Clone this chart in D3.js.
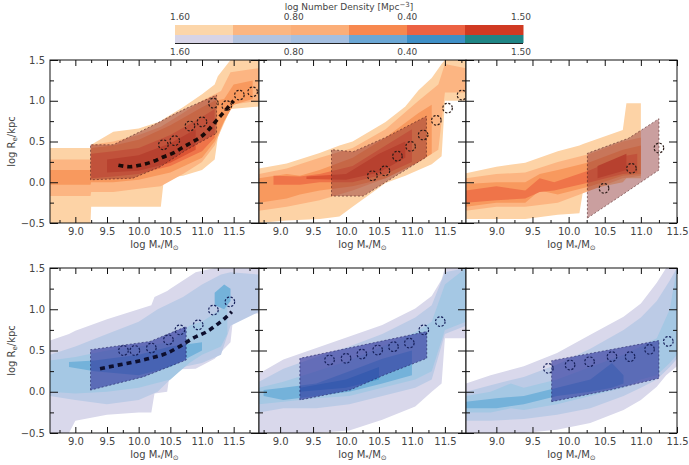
<!DOCTYPE html>
<html>
<head>
<meta charset="utf-8">
<script src="https://cdnjs.cloudflare.com/ajax/libs/d3/7.8.5/d3.min.js"></script>
<style>
  body { margin: 0; background: #fff; }
  text { font-family: "DejaVu Sans", sans-serif; fill: #444; }
</style>
</head>
<body>
<svg id="fig" width="689" height="465"></svg>
<script>
// tick values and colorbar
const xTicks = [9.0, 9.5, 10.0, 10.5, 11.0, 11.5];
const yTicks = [-0.5, 0.0, 0.5, 1.0, 1.5];
const cbarLabels = ["1.60", "0.80", "0.40", "1.50"];
const cbarOrange = ["#fcd6aa", "#fbb681", "#fbae78", "#f7884f", "#ec6243", "#d03a22"];
const cbarBlue = ["#d7d4e7", "#b4c4df", "#a5bfe0", "#6ba7d5", "#3e8fc7", "#1f8585"];
const orangeLevels = ["#fdd3a6", "#fcb582", "#f8995e", "#ef7449", "#dc5434"];
const blueLevels = ["#d9d8eb", "#bccbe6", "#a5c8e4", "#74b2da", "#4c9dcf"];

// density contours: each level = list of bands [logM, lo, hi]
const p1Levels = [
  [[[8.6,-0.5,0.42],[9.24,-0.5,0.42],[9.25,-0.3,0.46],[9.6,-0.3,0.62],[10.0,-0.3,0.66],[10.35,-0.3,0.75],[10.4,0.05,0.78],[10.7,0.08,0.92],[11.0,0.15,1.08],[11.2,0.28,1.2],[11.25,0.55,1.3],[11.45,0.9,1.5],[11.9,0.93,1.5]]],
  [[[8.6,-0.17,0.28],[9.24,-0.17,0.28],[9.25,-0.12,0.46],[9.6,-0.12,0.5],[10.0,-0.08,0.58],[10.35,-0.05,0.68],[10.7,0.1,0.85],[11.0,0.25,1.0],[11.2,0.45,1.08],[11.3,0.65,1.12],[11.45,0.95,1.35],[11.9,1.0,1.4]]],
  [[[8.6,-0.03,0.15],[9.24,-0.03,0.15],[9.25,0.0,0.42],[9.6,0.0,0.45],[10.0,0.03,0.52],[10.5,0.12,0.7],[11.0,0.3,0.92],[11.2,0.5,1.0],[11.35,0.75,1.02],[11.5,0.95,1.2],[11.8,1.02,1.25]]],
  [[[9.25,0.05,0.35],[9.6,0.07,0.38],[10.0,0.1,0.42],[10.5,0.2,0.58],[11.0,0.38,0.8],[11.2,0.55,0.9]]],
  [[[9.5,0.12,0.28],[10.0,0.14,0.33],[10.5,0.24,0.48],[10.9,0.4,0.65]]]
];
const p2Levels = [
  [[[8.68,-0.5,0.17],[9.1,-0.47,0.23],[9.6,-0.45,0.36],[9.9,-0.42,0.45],[10.1,-0.3,0.5],[10.6,-0.01,0.74],[10.9,0.08,0.93],[11.1,0.15,1.13],[11.3,0.22,1.28],[11.45,0.32,1.45],[11.5,1.0,1.5],[11.82,1.0,1.5]]],
  [[[8.68,-0.35,0.1],[9.1,-0.3,0.17],[9.6,-0.22,0.3],[10.1,-0.1,0.42],[10.6,0.05,0.65],[11.1,0.25,1.0],[11.4,0.4,1.2],[11.5,1.1,1.45],[11.82,1.1,1.4]]],
  [[[8.68,-0.25,0.05],[9.1,-0.2,0.1],[9.3,-0.15,0.08],[9.6,-0.1,0.15],[10.1,-0.05,0.3],[10.6,0.05,0.55],[11.1,0.25,0.85],[11.3,0.35,0.95]]],
  [[[8.9,-0.03,0.08],[9.3,-0.03,0.07],[9.6,0.0,0.1],[10.1,0.0,0.2],[10.6,0.1,0.45],[11.0,0.25,0.65]]],
  [[[9.4,0.04,0.07],[10.0,0.03,0.1],[10.5,0.12,0.35],[10.9,0.3,0.5]]]
];
const p3Levels = [
  [[[8.58,-0.45,0.11],[9.0,-0.45,0.19],[9.4,-0.45,0.24],[9.85,-0.4,0.38],[10.15,-0.38,0.45],[10.2,-0.1,0.47],[10.75,0.0,0.64],[10.8,0.05,0.97],[11.0,0.05,0.97]]],
  [[[8.58,-0.35,0.05],[9.0,-0.3,0.1],[9.4,-0.3,0.12],[9.85,-0.25,0.25],[10.3,-0.1,0.35],[10.75,0.05,0.5],[11.0,0.08,0.55]]],
  [[[8.58,-0.3,-0.02],[9.0,-0.25,0.0],[9.4,-0.25,0.0],[9.6,-0.1,0.1],[9.85,-0.15,0.15],[10.3,-0.05,0.25],[10.75,0.08,0.4],[11.0,0.1,0.45]]],
  [[[8.58,-0.25,-0.1],[9.0,-0.22,-0.05],[9.4,-0.2,-0.1],[9.6,-0.12,0.05],[9.8,-0.1,0.0],[10.3,0.0,0.15],[10.75,0.1,0.32],[10.95,0.12,0.35]]],
  [[[10.4,0.05,0.2],[10.8,0.15,0.35]]]
];
const p4Levels = [
  [[[8.6,-0.5,0.62],[8.9,-0.5,0.7],[9.0,-0.35,0.74],[9.5,-0.28,0.88],[10.0,-0.25,1.0],[10.2,-0.25,1.05],[10.25,-0.02,1.15],[10.45,0.0,1.22],[10.5,0.27,1.25],[10.9,0.28,1.45],[11.2,0.4,1.5],[11.45,0.6,1.5],[11.5,0.95,1.5],[11.9,0.95,1.5]]],
  [[[8.6,-0.05,0.45],[9.0,-0.1,0.55],[9.5,-0.15,0.7],[10.0,-0.1,0.85],[10.3,0.0,1.0],[10.7,0.3,1.15],[11.0,0.35,1.3],[11.3,0.45,1.42],[11.45,0.8,1.45],[11.9,0.97,1.42]]],
  [[[8.6,0.0,0.38],[9.0,-0.02,0.42],[9.5,0.0,0.5],[10.0,0.05,0.55],[10.5,0.15,0.6],[10.8,0.35,0.8],[11.0,0.45,0.85],[11.3,0.55,1.0],[11.4,0.7,1.25]]],
  [[[8.9,0.3,0.36],[9.3,0.25,0.38],[10.0,0.2,0.45],[10.5,0.3,0.55],[11.0,0.5,0.6]],
   [[11.2,1.05,1.2],[11.35,1.0,1.3],[11.45,1.1,1.25]]],
  []
];
const p5Levels = [
  [[[8.68,-0.5,0.22],[9.05,-0.5,0.39],[9.55,-0.5,0.53],[10.05,-0.47,0.67],[10.55,-0.34,0.81],[11.05,-0.18,1.01],[11.3,0.0,1.16],[11.45,0.1,1.36],[11.5,0.65,1.5],[11.82,0.65,1.5]]],
  [[[8.68,-0.25,0.12],[9.05,-0.2,0.28],[9.55,-0.2,0.42],[10.05,-0.15,0.55],[10.55,-0.05,0.7],[11.05,0.05,0.9],[11.3,0.15,1.05],[11.5,0.7,1.45],[11.82,0.8,1.5]]],
  [[[8.68,-0.15,0.05],[9.05,-0.12,0.12],[9.55,-0.08,0.25],[10.05,-0.05,0.38],[10.55,0.05,0.55],[11.05,0.15,0.72],[11.3,0.25,0.85],[11.5,0.75,1.3],[11.82,0.85,1.5]]],
  [[[8.75,-0.05,0.02],[9.05,-0.1,0.05],[9.55,-0.05,0.1],[10.05,0.0,0.25],[10.55,0.1,0.4],[11.0,0.2,0.5]]],
  [[[9.3,0.0,0.05],[10.0,0.05,0.15],[10.5,0.15,0.3]]]
];
const p6Levels = [
  [[[8.58,-0.5,0.1],[8.92,-0.5,0.2],[9.38,-0.5,0.31],[9.84,-0.46,0.47],[10.3,-0.38,0.69],[10.76,-0.22,0.91],[11.0,-0.1,1.07],[11.22,0.06,1.32],[11.35,0.2,1.5],[11.5,0.31,1.5]]],
  [[[8.58,-0.35,0.0],[8.92,-0.35,0.08],[9.38,-0.33,0.18],[9.84,-0.28,0.33],[10.3,-0.2,0.52],[10.76,-0.05,0.75],[11.0,0.05,0.9],[11.22,0.15,1.1],[11.4,0.3,1.35],[11.5,0.4,1.5]]],
  [[[8.58,-0.25,-0.05],[8.92,-0.25,0.0],[9.2,-0.2,0.1],[9.38,-0.22,0.05],[9.84,-0.15,0.15],[10.3,-0.05,0.3],[10.76,0.05,0.45],[11.0,0.15,0.55],[11.22,0.2,0.65],[11.4,0.35,1.0],[11.5,0.45,1.5]]],
  [[[8.58,-0.2,-0.12],[9.0,-0.2,-0.08],[9.38,-0.15,-0.05],[9.84,-0.05,0.05],[10.3,0.0,0.15],[10.6,0.05,0.35],[10.76,0.1,0.2]]],
  []
];

// fit regions (shaded polygons)
const p1Region = [[9.24,0.03],[9.24,0.46],[9.6,0.46],[10.23,0.70],[10.55,0.83],[10.76,0.91],[11.23,1.07],[11.23,0.6],[10.76,0.4],[10.34,0.19],[9.91,0.05]];
const p2Region = [[9.78,-0.17],[9.78,0.40],[10.11,0.375],[10.6,0.55],[11.22,0.81],[11.22,0.31],[10.26,-0.17]];
const p3Region = [[10.26,-0.44],[10.26,0.355],[10.83,0.54],[11.25,0.78],[11.25,0.15],[10.75,-0.15]];
const p4Region = [[9.24,0.02],[9.24,0.51],[10.18,0.61],[10.75,0.79],[10.75,0.385],[10.07,0.18]];
const p5Region = [[9.30,-0.1],[9.30,0.405],[11.225,0.73],[11.225,0.405],[10.57,0.2],[10.06,0.02]];
const p6Region = [[9.765,-0.12],[9.765,0.377],[11.25,0.62],[11.25,0.163],[10.57,0.02]];

// open circles
const p1Circles = [[10.39,0.46],[10.57,0.51],[10.81,0.69],[11.0,0.74],[11.18,0.97],[11.39,0.94],[11.59,1.07],[11.8,1.11]];
const p2Circles = [[10.4,0.08],[10.59,0.14],[10.78,0.32],[10.98,0.44],[11.17,0.58],[11.37,0.76],[11.54,0.91],[11.76,1.07]];
const p3Circles = [[10.49,-0.075],[10.87,0.17],[11.25,0.42]];
const p4Circles = [[9.76,0.5],[9.94,0.5],[10.2,0.53],[10.47,0.63],[10.65,0.75],[10.94,0.81],[11.18,0.99],[11.44,1.09]];
const p5Circles = [[9.75,0.385],[10.0,0.405],[10.24,0.457],[10.48,0.506],[10.72,0.546],[10.96,0.59],[11.18,0.75],[11.43,0.85]];
const p6Circles = [[9.72,0.284],[10.02,0.324],[10.29,0.364],[10.6,0.425],[10.85,0.425],[11.12,0.514],[11.38,0.61]];

// thick dashed relations
const p1Curve = [[9.68,0.21],[9.86,0.19],[10.02,0.21],[10.21,0.25],[10.39,0.31],[10.55,0.36],[10.68,0.42],[10.84,0.49],[10.97,0.55],[11.1,0.64],[11.23,0.76],[11.39,0.9],[11.5,1.0]];
const p4Curve = [[9.39,0.28],[9.65,0.32],[9.92,0.36],[10.18,0.405],[10.44,0.466],[10.65,0.55],[10.86,0.65],[11.08,0.73],[11.23,0.81],[11.36,0.89],[11.47,0.97]];

const top1 = 60, bot1 = 223, top2 = 268, bot2 = 433;
const cols = [
  { left: 50, right: 259, dom: [8.6, 11.9] },
  { left: 259, right: 466, dom: [8.68, 11.82] },
  { left: 466, right: 677, dom: [8.58, 11.5] }
];

const panels = [
  { col: 0, top: top1, bot: bot1, levels: p1Levels, colors: orangeLevels, region: p1Region, circles: p1Circles, curve: p1Curve, red: true },
  { col: 1, top: top1, bot: bot1, levels: p2Levels, colors: orangeLevels, region: p2Region, circles: p2Circles, curve: null, red: true },
  { col: 2, top: top1, bot: bot1, levels: p3Levels, colors: orangeLevels, region: p3Region, circles: p3Circles, curve: null, red: true },
  { col: 0, top: top2, bot: bot2, levels: p4Levels, colors: blueLevels, region: p4Region, circles: p4Circles, curve: p4Curve, red: false },
  { col: 1, top: top2, bot: bot2, levels: p5Levels, colors: blueLevels, region: p5Region, circles: p5Circles, curve: null, red: false },
  { col: 2, top: top2, bot: bot2, levels: p6Levels, colors: blueLevels, region: p6Region, circles: p6Circles, curve: null, red: false }
];

const svg = d3.select("#fig");
const defs = svg.append("defs");

// colorbar
const cb = d3.scaleBand().domain(d3.range(6)).range([175, 523]).padding(0);
svg.append("g").selectAll("rect").data(cbarOrange).join("rect")
  .attr("x", (d, i) => cb(i)).attr("y", 25).attr("width", cb.bandwidth() + 0.5).attr("height", 10).attr("fill", d => d);
svg.append("g").selectAll("rect").data(cbarBlue).join("rect")
  .attr("x", (d, i) => cb(i)).attr("y", 35).attr("width", cb.bandwidth() + 0.5).attr("height", 8).attr("fill", d => d);
svg.append("line").attr("x1", 175).attr("x2", 523).attr("y1", 43.5).attr("y2", 43.5).attr("stroke", "#222").attr("stroke-width", 1);
const cbLab = d3.scaleLinear().domain([0, cbarLabels.length - 1]).range([180, 521]);
const cbTitle = svg.append("text").attr("x", 349).attr("y", 10).attr("text-anchor", "middle").style("font-size", "9px");
cbTitle.append("tspan").text("log Number Density [Mpc");
cbTitle.append("tspan").attr("dy", -3).style("font-size", "7px").text("−3");
cbTitle.append("tspan").attr("dy", 3).text("]");
cbarLabels.forEach((l, i) => {
  svg.append("text").attr("x", cbLab(i)).attr("y", 20).attr("text-anchor", "middle").style("font-size", "9px").text(l);
  svg.append("text").attr("x", cbLab(i)).attr("y", 55).attr("text-anchor", "middle").style("font-size", "9px").text(l);
});

panels.forEach((p, i) => {
  const c = cols[p.col];
  const x = d3.scaleLinear().domain(c.dom).range([c.left, c.right]);
  const y = d3.scaleLinear().domain([-0.5, 1.5]).range([p.bot, p.top]);

  const clipId = "clip" + i;
  defs.append("clipPath").attr("id", clipId).append("rect")
    .attr("x", c.left).attr("y", p.top).attr("width", c.right - c.left).attr("height", p.bot - p.top);

  const g = svg.append("g").attr("clip-path", `url(#${clipId})`);
  g.append("rect").attr("x", c.left).attr("y", p.top).attr("width", c.right - c.left).attr("height", p.bot - p.top).attr("fill", "#fff");

  const area = d3.area().x(d => x(d[0])).y0(d => y(d[1])).y1(d => y(d[2]));
  p.levels.forEach((bands, li) => {
    bands.forEach(b => {
      g.append("path").attr("d", area(b)).attr("fill", p.colors[li]);
    });
  });

  // shaded region
  const poly = d3.line().x(d => x(d[0])).y(d => y(d[1])).curve(d3.curveLinearClosed);
  g.append("path").attr("d", poly(p.region))
    .attr("fill", p.red ? "#8a2a2a" : "#2a2f9a")
    .attr("fill-opacity", p.red ? 0.45 : 0.6)
    .attr("stroke", p.red ? "#4a1a1a" : "#1a1a5a")
    .attr("stroke-width", 0.8)
    .attr("stroke-dasharray", "2,2")
    .attr("stroke-opacity", 0.7);

  // relation
  if (p.curve) {
    g.append("path").attr("d", d3.line().x(d => x(d[0])).y(d => y(d[1])).curve(d3.curveMonotoneX)(p.curve))
      .attr("fill", "none").attr("stroke", p.red ? "#1a0a08" : "#0d0f2e")
      .attr("stroke-width", 3.6).attr("stroke-dasharray", "5,4");
  }

  // circles
  g.selectAll("circle").data(p.circles).join("circle")
    .attr("cx", d => x(d[0])).attr("cy", d => y(d[1])).attr("r", 4.8)
    .attr("fill", "none").attr("stroke", p.red ? "#2a1a16" : "#16205a")
    .attr("stroke-width", 1.2).attr("stroke-dasharray", "2.2,1.6");

  // axes with inward ticks
  const minorX = d3.range(Math.ceil(c.dom[0] * 4) / 4, c.dom[1], 0.25).filter(v => Math.abs(v * 2 - Math.round(v * 2)) > 1e-6);
  const minorY = [-0.25, 0.25, 0.75, 1.25];
  const ax = svg.append("g").attr("class", "axes");

  ax.append("g").attr("transform", `translate(0,${p.bot})`)
    .call(d3.axisBottom(x).tickValues(xTicks).tickSize(-6).tickPadding(5).tickFormat(d3.format(".1f")));
  ax.append("g").attr("transform", `translate(0,${p.bot})`)
    .call(d3.axisBottom(x).tickValues(minorX).tickSize(-3).tickFormat(""));
  ax.append("g").attr("transform", `translate(0,${p.top})`)
    .call(d3.axisTop(x).tickValues(xTicks).tickSize(-6).tickFormat(""));
  ax.append("g").attr("transform", `translate(0,${p.top})`)
    .call(d3.axisTop(x).tickValues(minorX).tickSize(-3).tickFormat(""));

  ax.append("g").attr("transform", `translate(${c.left},0)`)
    .call(d3.axisLeft(y).tickValues(yTicks).tickSize(-8).tickPadding(5).tickFormat(p.col === 0 ? d3.format(".1f") : ""));
  ax.append("g").attr("transform", `translate(${c.left},0)`)
    .call(d3.axisLeft(y).tickValues(minorY).tickSize(-4).tickFormat(""));
  ax.append("g").attr("transform", `translate(${c.right},0)`)
    .call(d3.axisRight(y).tickValues(yTicks).tickSize(-8).tickFormat(""));
  ax.append("g").attr("transform", `translate(${c.right},0)`)
    .call(d3.axisRight(y).tickValues(minorY).tickSize(-4).tickFormat(""));

  ax.selectAll(".domain").remove();
  ax.selectAll(".tick line").attr("stroke", "#111");
  ax.selectAll(".tick text").style("font-size", "10px").style("font-family", "DejaVu Sans, sans-serif").attr("fill", "#444");

  // frame
  svg.append("rect").attr("x", c.left).attr("y", p.top).attr("width", c.right - c.left).attr("height", p.bot - p.top)
    .attr("fill", "none").attr("stroke", "#111").attr("stroke-width", 1);

  // x title
  const xt = svg.append("text").attr("x", (c.left + c.right) / 2).attr("y", p.bot + 25)
    .attr("text-anchor", "middle").style("font-size", "10px");
  xt.append("tspan").text("log M");
  xt.append("tspan").attr("dy", 2).style("font-size", "7px").text("*");
  xt.append("tspan").attr("dy", -2).text("/M");
  xt.append("tspan").attr("dy", 2).style("font-size", "7px").text("⊙");

  // y title
  if (p.col === 0) {
    const yt = svg.append("text")
      .attr("transform", `translate(15,${(p.top + p.bot) / 2}) rotate(-90)`)
      .attr("text-anchor", "middle").style("font-size", "10px");
    yt.append("tspan").text("log R");
    yt.append("tspan").attr("dy", 2).style("font-size", "7px").text("e");
    yt.append("tspan").attr("dy", -2).text("/kpc");
  }
});
</script>
</body>
</html>
